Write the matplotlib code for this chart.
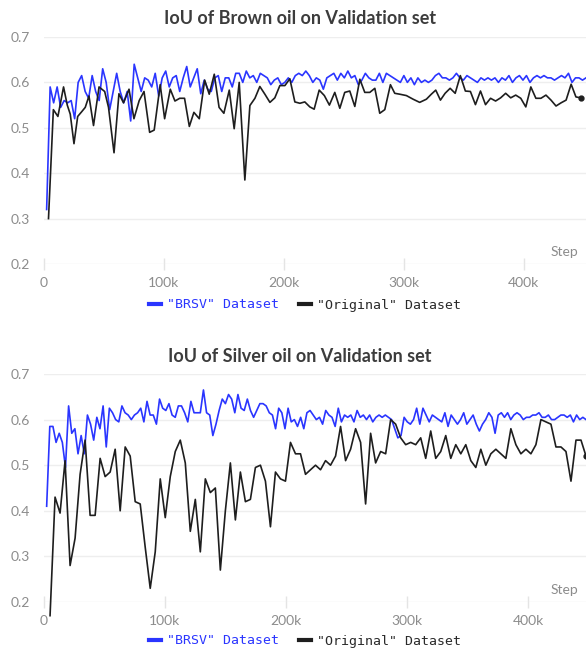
import numpy as np
import matplotlib
matplotlib.use("Agg")
import matplotlib.pyplot as plt
from matplotlib.lines import Line2D

# ---------------- data ----------------
TITLES = ["IoU of Brown oil on Validation set", "IoU of Silver oil on Validation set"]
SERIES_LABELS = ['"BRSV" Dataset', '"Original" Dataset']
X_TICKS = [0, 100000, 200000, 300000, 400000]
X_TICK_LABELS = ["0", "100k", "200k", "300k", "400k"]
Y_TICKS = [0.2, 0.3, 0.4, 0.5, 0.6, 0.7]
Y_TICK_LABELS = ["0.2", "0.3", "0.4", "0.5", "0.6", "0.7"]

# Brown oil, BRSV (logged at a regular interval from first to last step)
brown_brsv_first_step = 2200
brown_brsv_last_step = 452000
brown_brsv = [
    0.32, 0.59, 0.555, 0.59, 0.545, 0.56, 0.555, 0.56, 0.52, 0.60, 0.615, 0.58, 0.565, 0.615, 0.58,
    0.56, 0.63, 0.60, 0.54, 0.58, 0.62, 0.58, 0.555, 0.58, 0.515, 0.64, 0.61, 0.58, 0.61, 0.605,
    0.59, 0.62, 0.57, 0.61, 0.625, 0.59, 0.61, 0.615, 0.58, 0.61, 0.635, 0.59, 0.61, 0.63, 0.575,
    0.605, 0.585, 0.58, 0.61, 0.615, 0.58, 0.61, 0.61, 0.59, 0.62, 0.62, 0.60, 0.625, 0.61, 0.615,
    0.60, 0.62, 0.615, 0.61, 0.595, 0.605, 0.61, 0.595, 0.60, 0.61, 0.60, 0.615, 0.62, 0.615, 0.625,
    0.615, 0.60, 0.61, 0.605, 0.585, 0.61, 0.615, 0.62, 0.605, 0.62, 0.61, 0.625, 0.61, 0.615, 0.595,
    0.605, 0.62, 0.61, 0.605, 0.605, 0.62, 0.60, 0.62, 0.615, 0.61, 0.605, 0.60, 0.615, 0.60, 0.61,
    0.595, 0.61, 0.60, 0.605, 0.60, 0.605, 0.615, 0.62, 0.61, 0.61, 0.605, 0.61, 0.62, 0.61, 0.605,
    0.615, 0.61, 0.605, 0.60, 0.61, 0.605, 0.61, 0.605, 0.61, 0.60, 0.61, 0.605, 0.615, 0.60, 0.61,
    0.615, 0.605, 0.615, 0.60, 0.61, 0.615, 0.61, 0.615, 0.61, 0.61, 0.605, 0.61, 0.615, 0.61, 0.62,
    0.60, 0.61, 0.61, 0.605, 0.61,
]

# Brown oil, Original (steps in thousands, values)
brown_orig_steps_k = [
    3.75, 7.8, 11.6, 16.3, 19.4, 21.9, 25.0, 28.1, 31.3, 34.4, 37.5, 41.3, 45.9, 50.6, 53.8, 58.4,
    62.5, 66.3, 70.9, 75.0, 79.4, 83.4, 88.1, 91.9, 96.9, 100.6, 105.3,
    109.2, 113.2, 117.2, 121.2, 125.0, 129.5, 134.0, 137.8, 142.0, 146.0, 150.0, 154.5, 158.6, 162.8,
    167.5, 171.7, 175.9, 180.0, 184.2, 188.4, 192.5, 196.7, 200.9, 205.0, 209.2, 213.4, 217.5, 221.7,
    225.3, 229.5, 233.8, 238.0, 242.5, 246.7, 250.8, 255.0, 259.2, 263.4, 267.5, 271.7, 275.9, 280.0,
    284.2, 288.9, 292.5, 296.7, 302.2, 307.8, 313.3, 318.9, 323.0, 326.7, 330.6,
    334.5, 338.7, 342.9, 347.2, 351.4, 355.6, 359.8, 364.0, 368.2, 372.4, 376.6, 380.8, 385.0, 389.2,
    393.4, 397.6, 401.8, 406.0, 410.2, 414.4, 418.6, 422.8, 427.0, 431.2, 435.4, 439.6, 443.6, 447.6,
]
brown_orig = [
    0.30, 0.54, 0.525, 0.59, 0.55, 0.53, 0.465, 0.525, 0.535, 0.545, 0.57, 0.505, 0.59, 0.58, 0.545, 0.445,
    0.575, 0.555, 0.585, 0.52, 0.56, 0.58, 0.49, 0.495, 0.595, 0.52, 0.585,
    0.559, 0.565, 0.565, 0.503, 0.534, 0.52, 0.605, 0.574, 0.618, 0.545, 0.532, 0.583, 0.498, 0.60,
    0.385, 0.549, 0.565, 0.591, 0.574, 0.556, 0.566, 0.593, 0.593, 0.608, 0.557, 0.554, 0.557, 0.546,
    0.541, 0.583, 0.571, 0.55, 0.578, 0.543, 0.578, 0.581, 0.547, 0.607, 0.578, 0.578, 0.587, 0.532,
    0.54, 0.595, 0.576, 0.574, 0.571, 0.563, 0.556, 0.563, 0.574, 0.583, 0.561,
    0.576, 0.587, 0.576, 0.615, 0.581, 0.58, 0.551, 0.581, 0.551, 0.565, 0.559, 0.566, 0.576, 0.566,
    0.572, 0.565, 0.546, 0.59, 0.565, 0.565, 0.572, 0.561, 0.548, 0.555, 0.561, 0.596, 0.568, 0.566,
]

# Silver oil, BRSV
silver_brsv_first_step = 2200
silver_brsv_last_step = 448000
silver_brsv = [
    0.41, 0.585, 0.585, 0.55, 0.57, 0.55, 0.495, 0.63, 0.57, 0.58, 0.525, 0.565, 0.525, 0.61, 0.59,
    0.555, 0.605, 0.58, 0.63, 0.54, 0.625, 0.615, 0.60, 0.595, 0.63, 0.615, 0.61, 0.60, 0.61, 0.615,
    0.625, 0.595, 0.64, 0.61, 0.61, 0.59, 0.645, 0.625, 0.62, 0.635, 0.61, 0.605, 0.63, 0.63, 0.615,
    0.595, 0.64, 0.615, 0.615, 0.615, 0.665, 0.615, 0.61, 0.565, 0.59, 0.62, 0.645, 0.635, 0.655, 0.645,
    0.615, 0.655, 0.625, 0.62, 0.645, 0.62, 0.605, 0.62, 0.635, 0.635, 0.63, 0.615, 0.61, 0.58, 0.625,
    0.615, 0.58, 0.625, 0.595, 0.60, 0.585, 0.605, 0.58, 0.615, 0.62, 0.61, 0.60, 0.605, 0.59, 0.62,
    0.61, 0.605, 0.585, 0.625, 0.595, 0.61, 0.605, 0.61, 0.595, 0.62, 0.605, 0.61, 0.60, 0.61, 0.595,
    0.605, 0.61, 0.605, 0.61, 0.605, 0.60, 0.58, 0.56, 0.565, 0.605, 0.595, 0.59, 0.60, 0.625, 0.59,
    0.625, 0.61, 0.595, 0.61, 0.605, 0.60, 0.595, 0.615, 0.585, 0.61, 0.60, 0.59, 0.60, 0.615, 0.59,
    0.60, 0.61, 0.59, 0.575, 0.59, 0.60, 0.615, 0.605, 0.57, 0.61, 0.615, 0.605, 0.615, 0.60, 0.61,
    0.615, 0.61, 0.60, 0.605, 0.605, 0.61, 0.61, 0.615, 0.605, 0.605, 0.61, 0.60, 0.60, 0.605, 0.61,
    0.61, 0.605, 0.61, 0.595, 0.61, 0.60, 0.605, 0.60,
]

# Silver oil, Original
silver_orig_first_step = 5000
silver_orig_last_step = 448000
silver_orig = [
    0.17, 0.43, 0.395, 0.51, 0.28, 0.34, 0.48, 0.555, 0.39, 0.39, 0.515, 0.475, 0.485, 0.535, 0.40,
    0.54, 0.52, 0.42, 0.415, 0.32, 0.23, 0.31, 0.47, 0.385, 0.475, 0.53, 0.555,
    0.505, 0.355, 0.425, 0.31, 0.47, 0.44, 0.45, 0.27, 0.40, 0.505, 0.38, 0.485, 0.42, 0.425, 0.495,
    0.50, 0.465, 0.365, 0.485, 0.47, 0.465, 0.55, 0.525, 0.525, 0.48, 0.49,
    0.50, 0.49, 0.51, 0.50, 0.52, 0.585, 0.51, 0.535, 0.58, 0.55, 0.415, 0.57, 0.505, 0.53, 0.525,
    0.60, 0.59, 0.56, 0.545, 0.55, 0.545, 0.56, 0.515, 0.575, 0.515, 0.53, 0.565,
    0.515, 0.545, 0.525, 0.545, 0.51, 0.495, 0.535, 0.50, 0.525, 0.535, 0.525, 0.515, 0.58, 0.545,
    0.525, 0.535, 0.525, 0.545, 0.60, 0.595, 0.59, 0.54, 0.54, 0.53, 0.465, 0.555, 0.555, 0.52,
]

# ---------------- style ----------------
BLUE = "#2a35ff"
BLACK = "#1e1e1e"
GRID = "#eeeeee"
TICK_GRAY = "#8c8c8c"
TITLE_COLOR = "#3c3c3c"
FONT = "Lato"
MONO = "DejaVu Sans Mono"

W, H = 586, 650
fig = plt.figure(figsize=(W / 100, H / 100), dpi=100)


def px_ax(left, top, right, bottom):
    return fig.add_axes([left / W, 1 - bottom / H, (right - left) / W, (bottom - top) / H])


panels = [
    dict(ax=px_ax(44, 37, 586, 264), title=TITLES[0], title_y=18, legend_y=305,
         xmax=452000,
         blue_x=np.linspace(brown_brsv_first_step, brown_brsv_last_step, len(brown_brsv)),
         blue_y=brown_brsv,
         black_x=np.array(brown_orig_steps_k) * 1000, black_y=brown_orig),
    dict(ax=px_ax(44, 374, 586, 602), title=TITLES[1], title_y=356, legend_y=641,
         xmax=448000,
         blue_x=np.linspace(silver_brsv_first_step, silver_brsv_last_step, len(silver_brsv)),
         blue_y=silver_brsv,
         black_x=np.linspace(silver_orig_first_step, silver_orig_last_step, len(silver_orig)),
         black_y=silver_orig),
]

for p in panels:
    ax = p["ax"]
    ax.set_xlim(0, p["xmax"])
    ax.set_ylim(0.2, 0.7)
    for s in ax.spines.values():
        s.set_visible(False)
    ax.set_yticks(Y_TICKS)
    ax.set_yticklabels(Y_TICK_LABELS)
    ax.set_xticks(X_TICKS)
    ax.set_xticklabels(X_TICK_LABELS)
    ax.grid(axis="y", color=GRID, linewidth=1.0)
    ax.set_axisbelow(True)
    ax.tick_params(axis="y", length=0, pad=10, labelsize=10, labelcolor=TICK_GRAY)
    ax.tick_params(axis="x", direction="inout", length=9, width=1, color="#e4e4e4",
                   pad=5, labelsize=10, labelcolor=TICK_GRAY)
    for lab in ax.get_xticklabels() + ax.get_yticklabels():
        lab.set_family(FONT)

    ax.plot(p["blue_x"], p["blue_y"], color=BLUE, lw=1.2, zorder=3, clip_on=False)
    ax.plot(p["black_x"], p["black_y"], color=BLACK, lw=1.2, zorder=4, clip_on=False)
    ax.plot([p["black_x"][-1]], [p["black_y"][-1]], "o", color=BLACK, ms=3.5, zorder=5,
            clip_on=False)

    ax.annotate("Step", xy=(1, 0), xycoords="axes fraction", xytext=(-8, 6),
                textcoords="offset pixels", ha="right", va="bottom",
                fontsize=10, color=TICK_GRAY, family=FONT)

    fig.text(300 / W, 1 - p["title_y"] / H, p["title"], ha="center", va="center",
             fontsize=13, fontweight="bold", color=TITLE_COLOR, family=FONT)

    handles = [Line2D([0], [0], color=BLUE, lw=3), Line2D([0], [0], color=BLACK, lw=3)]
    leg = fig.legend(handles, SERIES_LABELS, loc="center", ncol=2,
                     bbox_to_anchor=(305 / W, 1 - p["legend_y"] / H),
                     frameon=False, handlelength=0.9, handletextpad=0.5,
                     columnspacing=1.5, prop={"family": MONO, "size": 9.5})
    leg.get_texts()[0].set_color(BLUE)
    leg.get_texts()[1].set_color("#2a2a2a")

fig.savefig("out.png", dpi=100)
